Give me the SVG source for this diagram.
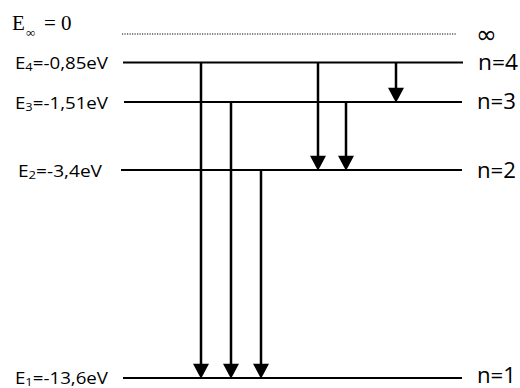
<svg xmlns="http://www.w3.org/2000/svg" width="520" height="388" viewBox="0 0 520 388">
<style>
.lvl{stroke:#000;stroke-width:2;fill:none}
.arr{stroke:#000;stroke-width:2.5;fill:none;marker-end:url(#ah)}
.lab{font-family:"Open Sans","Liberation Sans",sans-serif;font-size:16px;fill:#000}
.n{font-family:"Open Sans","Liberation Sans",sans-serif;font-size:21px;fill:#000}
.sub{font-size:11px}
.serif{font-family:"Liberation Serif",serif;fill:#000}
</style>
<defs>
<marker id="ah" markerUnits="userSpaceOnUse" markerWidth="16" markerHeight="16" viewBox="0 0 14 15" refX="4" refY="7.5" orient="auto">
<path d="M0,0 L14,7.5 L0,15 z" fill="#000"/>
</marker>
</defs>
<g id="level-inf">
<line x1="122" y1="34" x2="457" y2="34" stroke="#000" stroke-width="1.2" stroke-dasharray="1.2,1.3"/>
<text class="serif" x="12" y="29.5" font-size="21">E</text>
<text class="serif" x="26" y="37" font-size="13">∞</text>
<text class="serif" x="44" y="29.5" font-size="21">= 0</text>
<text x="476" y="43" font-family="DejaVu Sans,sans-serif" font-size="25">∞</text>
</g>
<g id="level-4">
<line class="lvl" x1="123" y1="62.5" x2="463" y2="62.5"/>
<text class="lab" x="15" y="68.5" textLength="93" lengthAdjust="spacingAndGlyphs">E<tspan class="sub" dy="2">4</tspan><tspan dy="-2">=-0,85eV</tspan></text>
<text class="n" x="478" y="70" textLength="40" lengthAdjust="spacingAndGlyphs">n=4</text>
</g>
<g id="level-3">
<line class="lvl" x1="124" y1="102" x2="462" y2="102"/>
<text class="lab" x="15" y="108.5" textLength="93" lengthAdjust="spacingAndGlyphs">E<tspan class="sub" dy="2">3</tspan><tspan dy="-2">=-1,51eV</tspan></text>
<text class="n" x="477" y="109" textLength="39" lengthAdjust="spacingAndGlyphs">n=3</text>
</g>
<g id="level-2">
<line class="lvl" x1="121" y1="170" x2="462" y2="170"/>
<text class="lab" x="18" y="176.5" textLength="84" lengthAdjust="spacingAndGlyphs">E<tspan class="sub" dy="2">2</tspan><tspan dy="-2">=-3,4eV</tspan></text>
<text class="n" x="477" y="178" textLength="39" lengthAdjust="spacingAndGlyphs">n=2</text>
</g>
<g id="level-1">
<line class="lvl" x1="123" y1="378" x2="462" y2="378"/>
<text class="lab" x="15" y="384" textLength="93" lengthAdjust="spacingAndGlyphs">E<tspan class="sub" dy="2">1</tspan><tspan dy="-2">=-13,6eV</tspan></text>
<text class="n" x="477" y="383" textLength="39" lengthAdjust="spacingAndGlyphs">n=1</text>
</g>
<g id="connectors">
<line class="arr" x1="201" y1="62" x2="201" y2="368"/>
<line class="arr" x1="231" y1="102" x2="231" y2="368"/>
<line class="arr" x1="261" y1="170" x2="261" y2="368"/>
<line class="arr" x1="318" y1="62" x2="318" y2="160"/>
<line class="arr" x1="346" y1="102" x2="346" y2="160"/>
<line class="arr" x1="396" y1="62" x2="396" y2="92"/>
</g>
</svg>
